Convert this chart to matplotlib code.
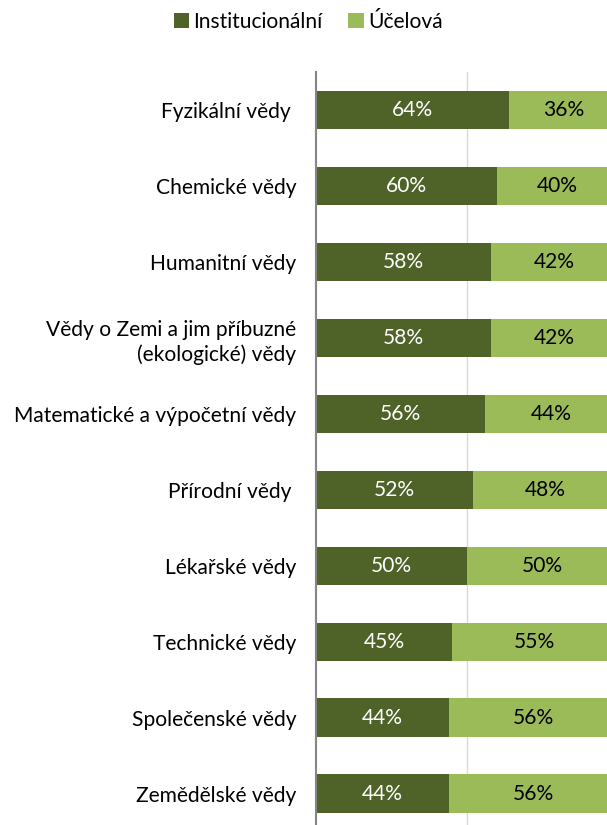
import matplotlib
matplotlib.use("Agg")
import matplotlib.pyplot as plt

categories = ["Fyzikální vědy ", "Chemické vědy", "Humanitní vědy",
              "Vědy o Zemi a jim příbuzné\n(ekologické) vědy",
              "Matematické a výpočetní vědy", "Přírodní vědy ", "Lékařské vědy",
              "Technické vědy", "Společenské vědy", "Zemědělské vědy"]
inst = [64, 60, 58, 58, 56, 52, 50, 45, 44, 44]
ucel = [36, 40, 42, 42, 44, 48, 50, 55, 56, 56]
series_names = ["Institucionální", "Účelová"]

plt.rcParams['font.family'] = ['Lato', 'DejaVu Sans']
FS = 15.1
W, H = 607, 825
fig = plt.figure(figsize=(W/100, H/100), dpi=100)
ax = fig.add_axes([316/W, 0, 1-316/W, 1-72/H])

dark = "#4F6228"
light = "#9BBB59"
y = list(range(len(categories)))
inst_f = [v/100 for v in inst]
ucel_f = [v/100 for v in ucel]
b1 = ax.barh(y, inst_f, height=0.51, color=dark, label=series_names[0], zorder=3)
b2 = ax.barh(y, ucel_f, left=inst_f, height=0.51, color=light, label=series_names[1], zorder=3)

for i in y:
    ax.text(inst_f[i]/2, i, f"{inst[i]}%", ha="center", va="center", color="white", fontsize=FS, zorder=4)
    ax.text(inst_f[i] + ucel_f[i]/2, i, f"{ucel[i]}%", ha="center", va="center", color="black", fontsize=FS, zorder=4)

ax.set_xlim(0, (W-316)/302)
ax.set_ylim(9.41, -0.5)
ax.set_yticks(y)
ax.set_yticklabels(categories, fontsize=FS, linespacing=1.3)
ax.tick_params(axis="y", length=0, pad=14)
ax.set_xticks([0.5])
ax.tick_params(axis="x", length=0, labelbottom=False)
ax.grid(axis="x", color="#D9D9D9", linewidth=1, zorder=0)
for s in ["top", "right", "bottom"]:
    ax.spines[s].set_visible(False)
ax.spines["left"].set_color("#868686")
ax.spines["left"].set_linewidth(1.5)
ax.spines["left"].set_zorder(5)

fig.legend(handles=[b1, b2], loc="center", bbox_to_anchor=(308/W, 1-22/H), ncol=2,
           frameon=False, fontsize=FS, handlelength=0.75, handleheight=0.75,
           handletextpad=0.2, columnspacing=1.2)

fig.savefig("out.png", dpi=100)
